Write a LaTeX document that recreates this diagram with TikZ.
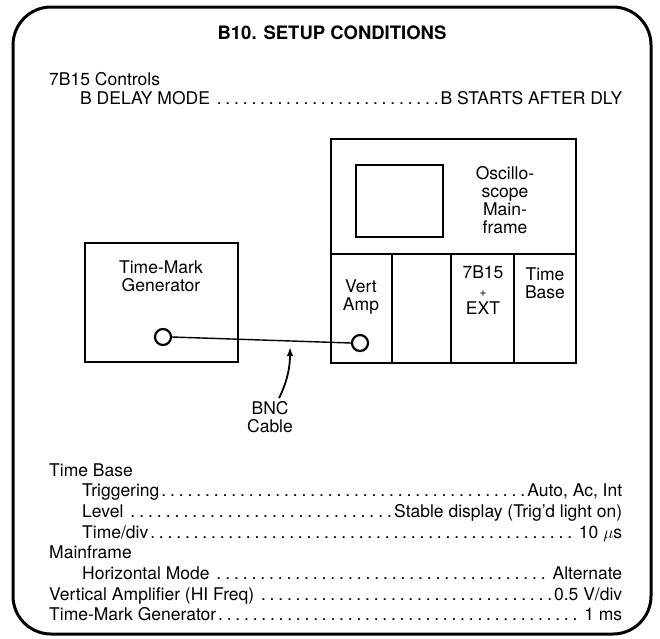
\documentclass[tikz,border=0pt]{standalone}
\usepackage{fontspec}
\setmainfont{TeX Gyre Heros}
\usetikzlibrary{arrows.meta}
\newcommand{\myleaders}{\xleaders\hbox to 8.6pt{\hss.\hss}\hfill}
\newcommand{\mylistline}[3]{\hbox to #1{#2\myleaders #3}}
\begin{document}
\begin{tikzpicture}[x=1pt,y=-1pt,
  txt/.style={inner sep=0pt, align=center, font=\fontsize{17.5}{18}\selectfont},
  lst/.style={inner sep=0pt, anchor=base west, font=\fontsize{17.5}{20}\selectfont},
  unitbox/.style={draw, line width=2.5pt, inner sep=0pt},
  jack/.style={draw, circle, line width=2.2pt, minimum size=16pt, inner sep=0pt},
  part/.style={line width=2pt},
  cable/.style={line width=1.4pt},
  pointer/.style={line width=1.8pt, -{Latex[length=9pt,width=6.5pt]}}]
\useasboundingbox (0,0) rectangle (660,638);
% outer frame
\draw[line width=3pt, rounded corners=38pt] (13,7) rectangle (651,634);
% title and top settings
\node[inner sep=0pt, font=\bfseries\fontsize{18.5}{20}\selectfont] (title) at (332,33) {B10. SETUP CONDITIONS};
\node[lst] (h1) at (49,85) {7B15 Controls};
\node[lst] (l1) at (80,104) {\mylistline{542pt}{B DELAY MODE }{B STARTS AFTER DLY}};
% mainframe
\node[unitbox, minimum width=245pt, minimum height=224pt] (mf) at (453.5,251) {};
\node[draw, line width=2pt, inner sep=0pt, minimum width=87pt, minimum height=72pt] (scr) at (399.5,201) {};
\draw[part] (331,254) -- (576,254);
\draw[part] (392,254) -- (392,363);
\draw[part] (451,254) -- (451,363);
\draw[part] (514,254) -- (514,363);
\node[txt] (osc) at (505,200) {Oscillo-\\scope\\Main-\\frame};
\node[txt] (va) at (361,297) {Vert\\Amp};
\node[txt] (ext) at (483,290) {7B15\\{\fontsize{12}{18}\selectfont +}\\EXT};
\node[txt] (tb) at (545,283) {Time\\Base};
\node[jack] (vj) at (360,343) {};
% generator
\node[unitbox, minimum width=153pt, minimum height=119pt] (gen) at (161.5,302.5) {};
\node[txt] (gent) at (161,276) {Time-Mark\\Generator};
\node[jack] (gj) at (163,337) {};
% cable
\draw[cable] (gj.east) -- (vj.west);
\node[txt] (bnc) at (270,417) {BNC\\Cable};
\coordinate (tip) at (290,347);
\draw[pointer] ([xshift=9pt,yshift=3pt]bnc.north) .. controls (287,382) and (290,368) .. (tip);
% bottom settings
\node[lst] (b1) at (49,476) {Time Base};
\node[lst] (b2) at (82,496.7) {\mylistline{540pt}{Triggering}{Auto, Ac, Int}};
\node[lst] (b3) at (82,517.4) {\mylistline{540pt}{Level }{Stable display (Trig'd light on)}};
\node[lst] (b4) at (82,538.1) {\mylistline{540pt}{Time/div}{ 10 $\mu$s}};
\node[lst] (b5) at (49,558.8) {Mainframe};
\node[lst] (b6) at (82,579.5) {\mylistline{540pt}{Horizontal Mode }{ Alternate}};
\node[lst] (b7) at (49,600.2) {\mylistline{573pt}{Vertical Amplifier (HI Freq) }{0.5 V/div}};
\node[lst] (b8) at (49,620.9) {\mylistline{573pt}{Time-Mark Generator}{ 1 ms}};
\end{tikzpicture}
\end{document}
